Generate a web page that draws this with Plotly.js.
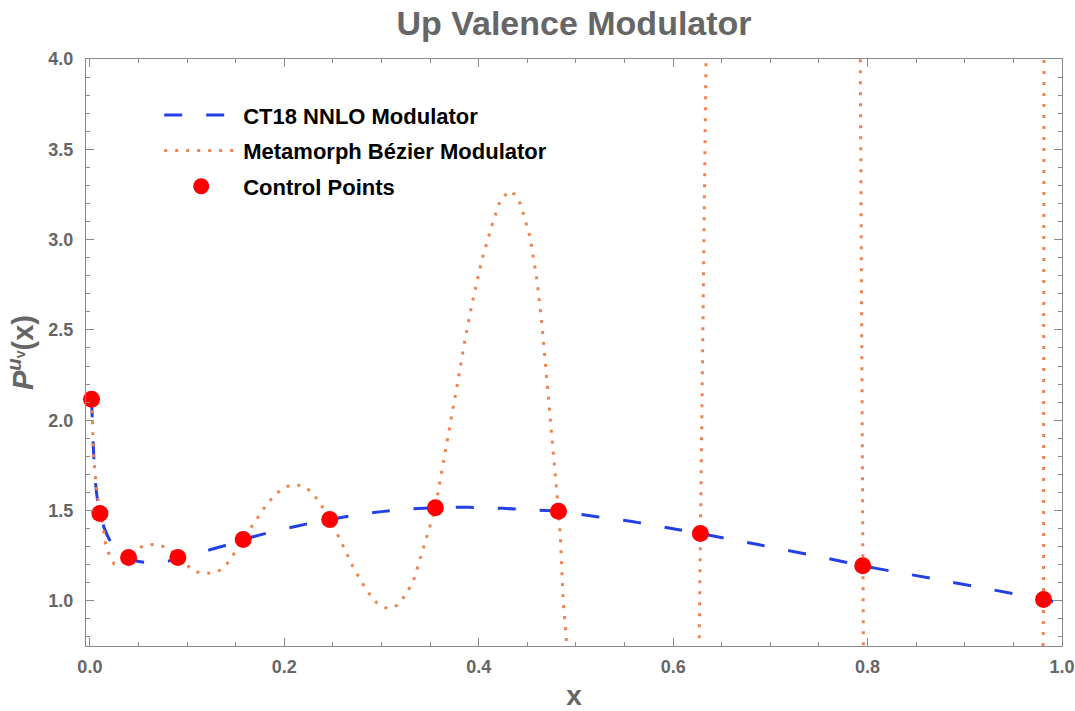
<!DOCTYPE html>
<html>
<head>
<meta charset="utf-8">
<script src="https://cdn.plot.ly/plotly-3.0.1.min.js"></script>
<style>html,body{margin:0;padding:0;background:#fff;}#chart{width:1075px;height:711px;}</style>
</head>
<body>
<div id="chart"></div>
<script>
// Control points
const ctrlX = [0.0017, 0.0103, 0.0398, 0.0905, 0.1577, 0.2467, 0.3554, 0.4820, 0.6280, 0.7950, 0.9810];
const ctrlY = [2.116, 1.484, 1.240, 1.240, 1.340, 1.450, 1.515, 1.496, 1.373, 1.194, 1.008];

// CT18 NNLO modulator (blue dashed)
const ct18X = [0.0017, 0.0025, 0.0035, 0.005, 0.0075, 0.0103, 0.015, 0.021, 0.03, 0.0398, 0.05, 0.06, 0.075, 0.0905,
  0.105, 0.12, 0.14, 0.1577, 0.18, 0.2, 0.225, 0.2467, 0.27, 0.30, 0.33, 0.3554, 0.38, 0.40, 0.425, 0.45, 0.482,
  0.513, 0.53, 0.556, 0.575, 0.60, 0.628, 0.66, 0.686, 0.712, 0.7375, 0.76, 0.795, 0.823, 0.866, 0.909, 0.95, 0.981, 1.0];
const ct18Y = [2.116, 2.00, 1.86, 1.70, 1.57, 1.484, 1.40, 1.33, 1.265, 1.235, 1.218, 1.212, 1.215, 1.232,
  1.252, 1.277, 1.308, 1.340, 1.372, 1.398, 1.428, 1.450, 1.472, 1.494, 1.509, 1.515, 1.518, 1.517, 1.512, 1.505, 1.496,
  1.472, 1.459, 1.441, 1.424, 1.399, 1.373, 1.340, 1.313, 1.285, 1.258, 1.234, 1.194, 1.166, 1.124, 1.081, 1.040, 1.008, 0.986];

// Metamorph Bezier modulator (orange dotted); values beyond the frame leave the plot
const metaX = [0.0017, 0.0025, 0.004, 0.006, 0.0083, 0.0103, 0.0127, 0.016, 0.0196, 0.0247, 0.03, 0.035, 0.04, 0.05,
  0.058, 0.067, 0.076, 0.083, 0.09, 0.097, 0.1035, 0.11, 0.117, 0.125, 0.134, 0.141, 0.148, 0.1577, 0.165, 0.174,
  0.182, 0.19, 0.196, 0.204, 0.212, 0.221, 0.2235, 0.230, 0.237, 0.2467, 0.258, 0.271, 0.285, 0.295, 0.306, 0.316,
  0.326, 0.334, 0.34, 0.347, 0.3554, 0.362, 0.371, 0.378, 0.385, 0.393, 0.403, 0.414, 0.422, 0.431, 0.437, 0.443,
  0.453, 0.46, 0.465, 0.47, 0.475, 0.48, 0.482, 0.484, 0.487, 0.49, 0.492, 0.55, 0.62, 0.6262, 0.628, 0.631, 0.634,
  0.636, 0.70, 0.79, 0.7925, 0.795, 0.7958, 0.85, 0.978, 0.9802, 0.981, 0.9815, 1.0];
const metaY = [2.116, 2.00, 1.79, 1.66, 1.57, 1.484, 1.44, 1.32, 1.26, 1.206, 1.215, 1.235, 1.258, 1.293,
  1.308, 1.312, 1.300, 1.280, 1.245, 1.210, 1.180, 1.160, 1.151, 1.155, 1.170, 1.205, 1.258, 1.335, 1.400, 1.470,
  1.535, 1.585, 1.612, 1.635, 1.644, 1.630, 1.622, 1.590, 1.539, 1.452, 1.332, 1.184, 1.055, 0.990, 0.957, 0.975,
  1.040, 1.130, 1.240, 1.370, 1.515, 1.720, 1.978, 2.200, 2.420, 2.643, 2.883, 3.086, 3.215, 3.270, 3.250, 3.197,
  3.010, 2.772, 2.532, 2.237, 1.923, 1.627, 1.496, 1.354, 0.986, 0.800, 0.55, -3.0, -3.0, 0.50, 1.373, 2.70, 4.00,
  5.0, 8.0, 5.0, 4.00, 1.194, 0.60, -3.0, -3.0, 0.60, 1.008, 4.50, 8.0];

const xTickVals = [0, 0.2, 0.4, 0.6, 0.8, 1.0];
const xTickText = ['0.0', '0.2', '0.4', '0.6', '0.8', '1.0'];
const yTickVals = [1.0, 1.5, 2.0, 2.5, 3.0, 3.5, 4.0];
const yTickText = ['1.0', '1.5', '2.0', '2.5', '3.0', '3.5', '4.0'];

const FONT = 'Liberation Sans, Arial, Helvetica, sans-serif';
const GRAY = '#666666';
const AXIS = '#8a8a8a';

const traces = [
  {
    x: ct18X, y: ct18Y, type: 'scatter', mode: 'lines', name: 'CT18 NNLO Modulator',
    legendgroup: 'a',
    line: {color: '#2340e6', width: 3, dash: '18px,24px', shape: 'spline', smoothing: 0.6},
    hoverinfo: 'skip'
  },
  {
    x: metaX, y: metaY, type: 'scatter', mode: 'lines', name: 'Metamorph Bézier Modulator',
    legendgroup: 'b',
    line: {color: '#ee8350', width: 3, dash: '3px,8px'},
    hoverinfo: 'skip'
  },
  {
    x: ctrlX, y: ctrlY, type: 'scatter', mode: 'markers', name: 'Control Points',
    legendgroup: 'c',
    marker: {color: '#ff0000', size: 17, line: {width: 0}},
    cliponaxis: false
  }
];

const layout = {
  width: 1075, height: 711,
  margin: {l: 86, r: 13, t: 59, b: 65, pad: 0},
  paper_bgcolor: '#ffffff', plot_bgcolor: '#ffffff',
  font: {family: FONT, color: GRAY},
  title: {
    text: '<b>Up Valence Modulator</b>',
    font: {family: FONT, size: 34, color: GRAY},
    x: 0.5, xref: 'paper', y: 0.967, yref: 'container', yanchor: 'middle'
  },
  xaxis: {
    range: [-0.004, 1.0],
    tickvals: xTickVals, ticktext: xTickText,
    ticks: 'inside', ticklen: 8, tickwidth: 1, tickcolor: AXIS,
    showline: true, linecolor: AXIS, linewidth: 1, mirror: 'ticks',
    showgrid: false, zeroline: false,
    tickfont: {family: FONT, size: 18, color: GRAY, weight: 'bold'},
    ticklabelstandoff: 4,
    minor: {dtick: 0.05, tick0: 0, ticks: 'inside', ticklen: 4, tickcolor: AXIS, showgrid: false},
    title: {text: '<b>x</b>', font: {family: FONT, size: 28, color: GRAY}, standoff: 22}
  },
  yaxis: {
    range: [0.75, 4.0],
    tickvals: yTickVals, ticktext: yTickText,
    ticks: 'inside', ticklen: 8, tickwidth: 1, tickcolor: AXIS,
    showline: true, linecolor: AXIS, linewidth: 1, mirror: 'ticks',
    showgrid: false, zeroline: false,
    tickfont: {family: FONT, size: 18, color: GRAY, weight: 'bold'},
    ticklabelstandoff: 8,
    minor: {dtick: 0.1, tick0: 0, ticks: 'inside', ticklen: 4, tickcolor: AXIS, showgrid: false},
    title: {text: '<b><i>P</i><sup><i>u</i><sub>v</sub></sup>(x)</b>', font: {family: FONT, size: 29, color: GRAY}, standoff: 6}
  },
  showlegend: true,
  legend: {
    x: 0.075, y: 0.94, xanchor: 'left', yanchor: 'top',
    bgcolor: 'rgba(0,0,0,0)', borderwidth: 0,
    font: {family: FONT, size: 22, color: '#000000', weight: 'bold'},
    tracegroupgap: 4, itemwidth: 74
  }
};

Plotly.newPlot('chart', traces, layout, {displayModeBar: false, staticPlot: true});
</script>
</body>
</html>
